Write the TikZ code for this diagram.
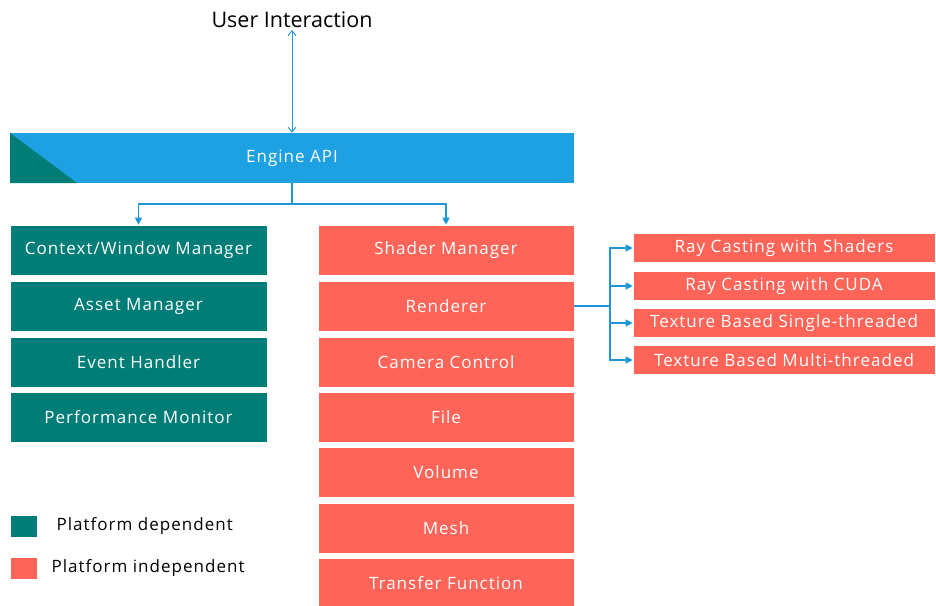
\documentclass[tikz,border=0pt]{standalone}
\usepackage{fontspec}
\setmainfont{Open Sans}
\newfontfamily\spacedfont{Open Sans}[LetterSpace=6]
\usetikzlibrary{arrows.meta}
\definecolor{teal1}{RGB}{0,125,118}
\definecolor{red1}{RGB}{255,100,88}
\definecolor{blue1}{RGB}{29,161,226}
\definecolor{arr}{RGB}{30,150,215}
\begin{document}
\begin{tikzpicture}[x=1pt,y=-1pt,
  boxtxt/.style={font=\spacedfont\fontsize{17}{20}\selectfont, text=white},
  tbox/.style={fill=teal1, draw=white, line width=0.6pt, minimum width=257pt, minimum height=50pt, inner sep=0pt, boxtxt},
  rbox/.style={fill=red1, draw=white, line width=0.6pt, minimum width=256pt, minimum height=50pt, inner sep=0pt, boxtxt},
  sbox/.style={fill=red1, draw=white, line width=0.6pt, minimum width=302pt, minimum height=29pt, inner sep=0pt, boxtxt},
  legtxt/.style={font=\spacedfont\fontsize{17}{20}\selectfont, anchor=west},
  conn/.style={draw=arr, line width=1.1pt},
  tip/.style={-{Triangle[length=7pt,width=7pt]}}
]
\useasboundingbox (0,0) rectangle (936,605);
% user interaction
\node[font=\fontsize{21.5}{24}\selectfont] (ui) at (292,20) {User Interaction};
% Engine API
\node[fill=blue1, minimum width=564pt, minimum height=50pt, inner sep=0pt, boxtxt] (api) at (292,158) {Engine API};
\fill[teal1] (10,133) -- (10,183) -- (77,183) -- cycle;
\draw[arr, line width=0.9pt, {Straight Barb[length=5pt,width=8pt]}-{Straight Barb[length=5pt,width=8pt]}] (ui.south |- 0,30) -- (api.north);
% left column
\node[tbox] (cw) at (138.5,250) {Context/Window Manager};
\node[tbox] (am) at (138.5,306) {Asset Manager};
\node[tbox] (eh) at (138.5,362) {Event Handler};
\node[tbox] (pm) at (138.5,417) {Performance Monitor};
% right column
\node[rbox] (sm) at (446,250) {Shader Manager};
\node[rbox] (re) at (446,306) {Renderer};
\node[rbox] (cc) at (446,362) {Camera Control};
\node[rbox] (fi) at (446,417) {File};
\node[rbox] (vo) at (446,472) {Volume};
\node[rbox] (me) at (446,528) {Mesh};
\node[rbox] (tf) at (446,583) {Transfer Function};
% API branches
\coordinate (j1) at (292,204);
\draw[conn] (api.south) -- (j1);
\draw[conn, tip] (j1) -| (cw.north);
\draw[conn, tip] (j1) -| (sm.north);
% renderer sub boxes
\node[sbox] (s1) at (784,248) {Ray Casting with Shaders};
\node[sbox] (s2) at (784,286) {Ray Casting with CUDA};
\node[sbox] (s3) at (784,323) {Texture Based Single-threaded};
\node[sbox] (s4) at (784,360) {Texture Based Multi-threaded};
\coordinate (j2) at (610,306);
\draw[conn] (re.east) -- (j2);
\draw[conn, tip] (j2) |- (s1.west);
\draw[conn, tip] (j2) |- (s2.west);
\draw[conn, tip] (j2) |- (s3.west);
\draw[conn, tip] (j2) |- (s4.west);
% legend
\node[fill=teal1, minimum width=26pt, minimum height=21pt, inner sep=0pt] (l1) at (24,526) {};
\node[legtxt] (l1t) at (53,526) {Platform dependent};
\node[fill=red1, minimum width=26pt, minimum height=21pt, inner sep=0pt] (l2) at (24,568) {};
\node[legtxt] (l2t) at (48,568) {Platform independent};
\end{tikzpicture}
\end{document}
